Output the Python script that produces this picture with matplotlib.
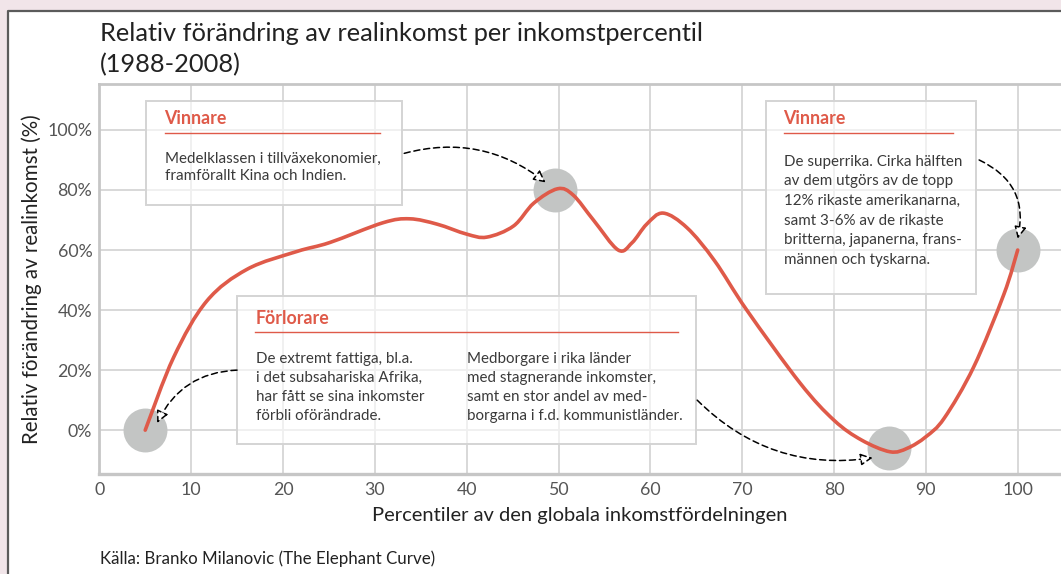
import matplotlib
matplotlib.use('Agg')
import numpy as np
import matplotlib.pyplot as plt
from matplotlib.patches import Rectangle, PathPatch
from matplotlib.path import Path
from matplotlib.lines import Line2D

plt.rcParams['font.family'] = ['Lato', 'DejaVu Sans']

# curve: percentile -> relative change (%)
percentile = [5, 8.1, 11.7, 16.1, 21.5, 25.1, 30.9, 33.8, 36.8, 40.0, 42.2,
              45.1, 47.3, 49.9, 51.6, 53.8, 56.5, 58.0, 59.6, 61.4, 64.0, 67.0,
              70.5, 76.3, 80.0, 83.0, 86.1, 88.0, 90.0, 92.0, 95.2, 98.5, 100]
change = [0, 24.3, 43.0, 53.6, 59.5, 62.5, 69.1, 70.4, 68.6, 65.3, 64.3,
          68.0, 75.6, 80.4, 78.3, 70.0, 60.0, 62.4, 68.6, 72.3, 67.4, 56.4,
          40.0, 15.7, 3.3, -3.3, -7.2, -6.0, -2.2, 4.0, 21.0, 45.3, 60]

# highlighted points
mark_x = [5, 49.6, 86, 100]
mark_y = [0, 80, -6, 60]

xticks = list(range(0, 101, 10))
yticks = list(range(0, 101, 20))
ytick_labels = ['%d%%' % v for v in yticks]

title = 'Relativ förändring av realinkomst per inkomstpercentil\n(1988-2008)'
ylabel = 'Relativ förändring av realinkomst (%)'
xlabel = 'Percentiler av den globala inkomstfördelningen'
source = 'Källa: Branko Milanovic (The Elephant Curve)'

red = '#df5a49'
W, H = 1061, 574


def smooth_path(x, y):
    """Catmull-Rom curve through the points, drawn as cubic Bezier segments."""
    p = np.column_stack([x, y]).astype(float)
    q = np.vstack([p[0], p, p[-1]])
    verts, codes = [p[0]], [Path.MOVETO]
    for i in range(1, len(q) - 2):
        c1 = q[i] + (q[i + 1] - q[i - 1]) / 6
        c2 = q[i + 1] - (q[i + 2] - q[i]) / 6
        verts += [c1, c2, q[i + 1]]
        codes += [Path.CURVE4] * 3
    return Path(verts, codes)


fig = plt.figure(figsize=(W / 100, H / 100), dpi=100)
fig.patch.set_facecolor('#f1e5e9')
fig.patches.append(Rectangle((8 / W, 0), 1, 1 - 11 / H, transform=fig.transFigure,
                             fc='white', ec='none', zorder=-2))
fig.lines.append(Line2D([8 / W, 8 / W, 1], [0, 1 - 11 / H, 1 - 11 / H],
                        transform=fig.transFigure, color='#5b5b5b', lw=1.6,
                        zorder=-1))

ax = fig.add_axes([99.3 / W, 1 - 474 / H, 1 - 99.3 / W, (474 - 84) / H])
ax.set_zorder(1)
ax.set_facecolor('none')
ax.set_xlim(0, (W - 99.3) / 9.184)
ax.set_ylim(-14.6, 115.3)
ax.set_xticks(xticks)
ax.set_yticks(yticks)
ax.set_yticklabels(ytick_labels)
ax.tick_params(length=0, labelsize=12.8, labelcolor='#555555')
ax.tick_params(axis='x', pad=6)
ax.tick_params(axis='y', pad=5)
ax.grid(color='#d6d6d6', lw=1.3, zorder=0)
ax.set_axisbelow(True)
for s in ['left', 'bottom', 'top']:
    ax.spines[s].set_color('#c6c6c6')
    ax.spines[s].set_linewidth(2)
ax.spines['bottom'].set_linewidth(2.4)
ax.spines['right'].set_visible(False)

ax.scatter(mark_x, mark_y, s=1000, color='#c3c5c4', zorder=2, linewidths=0)
ax.add_patch(PathPatch(smooth_path(percentile, change), fill=False, ec=red,
                       lw=2.6, zorder=3, capstyle='round', joinstyle='round'))

# annotation boxes
box_kw = dict(fc=(1, 1, 1, 0.62), ec='#d4d4d4', lw=1.4, zorder=4)
ax.add_patch(Rectangle((5.08, 74.9), 27.9, 34.8, **box_kw))
ax.add_patch(Rectangle((72.6, 45.4), 22.9, 64.3, **box_kw))
ax.add_patch(Rectangle((15.0, -4.6), 50.0, 49.4, **box_kw))

head_kw = dict(color=red, fontsize=12.8, fontweight='bold', va='center', zorder=6)
body_kw = dict(color='#3a3a3a', fontsize=10.9, va='top', zorder=6)

ax.text(7.1, 103.7, 'Vinnare', **head_kw)
ax.plot([7.1, 30.6], [99, 99], color=red, lw=1, zorder=6)
ax.text(7.1, 92.8, 'Medelklassen i tillväxekonomier,\nframförallt Kina och Indien.',
        linespacing=1.28, **body_kw)

ax.text(74.5, 103.7, 'Vinnare', **head_kw)
ax.plot([74.5, 93.0], [99, 99], color=red, lw=1, zorder=6)
ax.text(74.5, 91.8, 'De superrika. Cirka hälften\nav dem utgörs av de topp\n'
        '12% rikaste amerikanarna,\nsamt 3-6% av de rikaste\n'
        'britterna, japanerna, frans-\nmännen och tyskarna.',
        linespacing=1.52, **body_kw)

ax.text(17.0, 37.2, 'Förlorare', **head_kw)
ax.plot([17.0, 63.0], [32.7, 32.7], color=red, lw=1, zorder=6)
ax.text(17.1, 26.2, 'De extremt fattiga, bl.a.\ni det subsahariska Afrika,\n'
        'har fått se sina inkomster\nförbli oförändrade.',
        linespacing=1.46, **body_kw)
ax.text(40.0, 26.2, 'Medborgare i rika länder\nmed stagnerande inkomster,\n'
        'samt en stor andel av med-\nborgarna i f.d. kommunistländer.',
        linespacing=1.46, **body_kw)

# dashed arrows
arrow_kw = dict(arrowstyle='-|>', linestyle=(0, (4, 2.5)), lw=1.1, color='black',
                fc='white', mutation_scale=18, shrinkA=0, shrinkB=0)
arrows = [((33.2, 92.2), (48.6, 82.5), -0.25),
          ((95.8, 90.0), (100.0, 63.8), -0.4),
          ((15.0, 20.0), (6.3, 2.4), 0.3),
          ((65.1, 10.0), (84.2, -9.2), 0.25)]
for start, end, rad in arrows:
    ax.annotate('', xy=end, xytext=start, zorder=7,
                arrowprops=dict(connectionstyle='arc3,rad=%g' % rad, **arrow_kw))

fig.text(100 / W, 1 - 49.5 / H, title, fontsize=18.3, color='#222222',
         va='center', ha='left', linespacing=1.4)
fig.text(32 / W, 1 - 279 / H, ylabel, rotation=90, fontsize=14.8,
         color='#222222', va='center', ha='center')
fig.text(580 / W, 1 - 516 / H, xlabel, fontsize=14.5, color='#222222',
         va='center', ha='center')
fig.text(100 / W, 1 - 559 / H, source, fontsize=12.2, color='#222222',
         va='center', ha='left')

fig.savefig('out.png', dpi=100, facecolor=fig.get_facecolor())
